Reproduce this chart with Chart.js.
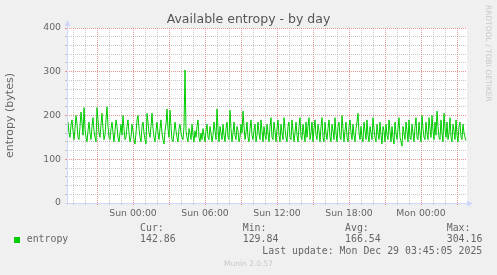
<!DOCTYPE html>
<html>
<head>
<meta charset="utf-8">
<script src="https://cdn.jsdelivr.net/npm/chart.js@4/dist/chart.umd.min.js"></script>
<style>
  html, body { margin: 0; padding: 0; background: #f0f0f0; }
  #wrap { position: relative; width: 497px; height: 275px; overflow: hidden; }
  #entropyChart { position: absolute; left: 0; top: 0; }
  .txt { position: absolute; white-space: pre; color: #666; }
  .mono { font-family: "DejaVu Sans Mono", monospace; font-size: 9.9px; line-height: 12px; }
</style>
</head>
<body>
<div id="wrap">
  <canvas id="entropyChart" width="497" height="275"></canvas>
</div>
<script>
// entropy samples, one every 5 minutes from Sat 18:30 to Mon 03:45
const entropy = [
    175, 185, 160, 150, 178, 190, 165, 145, 170, 200, 180, 150, 145, 175, 208, 185, 155, 218, 170, 150,
    140, 165, 185, 160, 145, 175, 195, 165, 150, 140, 218, 190, 160, 150, 180, 205, 170, 145, 155, 190,
    220, 175, 150, 145, 170, 185, 160, 140, 165, 190, 175, 150, 140, 160, 180, 155, 200, 170, 145, 150,
    175, 190, 160, 140, 150, 180, 165, 145, 135, 160, 190, 200, 170, 150, 140, 175, 185, 160, 145, 135,
    205, 185, 160, 150, 175, 205, 170, 150, 140, 165, 185, 160, 145, 170, 190, 160, 145, 135, 165, 180,
    215, 170, 150, 212, 175, 145, 140, 160, 185, 165, 150, 140, 170, 180, 160, 150, 145, 175, 304, 165,
    150, 140, 170, 160, 145, 180, 155, 140, 165, 150, 175, 190, 150, 140, 160, 145, 170, 155, 140, 165,
    180, 150, 145, 175, 160, 140, 155, 185, 165, 145, 215, 170, 140, 175, 160, 145, 180, 155, 140, 170,
    185, 150, 145, 212, 170, 140, 160, 185, 155, 145, 175, 165, 140, 150, 180, 160, 210, 175, 145, 160,
    185, 150, 140, 170, 190, 155, 145, 165, 180, 140, 155, 185, 160, 145, 190, 165, 140, 175, 155, 145,
    180, 160, 140, 175, 195, 150, 145, 185, 165, 140, 170, 190, 155, 140, 180, 160, 145, 195, 170, 150,
    140, 175, 185, 150, 145, 190, 165, 140, 160, 185, 155, 140, 175, 195, 150, 145, 180, 160, 140, 185,
    150, 175, 195, 145, 160, 185, 140, 170, 190, 155, 145, 180, 165, 140, 175, 195, 150, 140, 185, 160,
    145, 170, 190, 150, 140, 180, 165, 145, 195, 160, 140, 175, 185, 150, 145, 200, 170, 140, 165, 185,
    150, 140, 175, 190, 160, 145, 180, 155, 140, 170, 185, 205, 160, 145, 175, 150, 140, 185, 165, 145,
    190, 155, 140, 175, 160, 145, 195, 170, 150, 140, 180, 160, 145, 185, 155, 135, 175, 165, 140, 180,
    155, 145, 190, 165, 140, 175, 150, 135, 185, 160, 145, 170, 195, 150, 140, 130, 175, 160, 145, 185,
    165, 140, 190, 150, 145, 180, 160, 140, 175, 195, 150, 145, 185, 160, 140, 200, 170, 150, 145, 185,
    160, 145, 195, 170, 150, 200, 165, 145, 185, 155, 210, 175, 150, 145, 190, 160, 140, 205, 170, 150,
    185, 145, 160, 195, 150, 140, 180, 165, 145, 190, 155, 140, 175, 185, 150, 145, 180, 160, 150, 143
];
const startHour = -5.5;      // hours relative to Sun 00:00
const stepHours = 1 / 12;
const endHour = 27.8333;

const xTickHours = [0, 6, 12, 18, 24];
const xTickLabels = ["Sun 00:00", "Sun 06:00", "Sun 12:00", "Sun 18:00", "Mon 00:00"];
const yTickValues = [0, 100, 200, 300, 400];

const statLabels = ["Cur:", "Min:", "Avg:", "Max:"];
const statValues = ["142.86", "129.84", "166.54", "304.16"];
const lastUpdate = "Last update: Mon Dec 29 03:45:05 2025";

const points = entropy.map((v, i) => ({ x: startHour + i * stepHours, y: v }));

// rrdtool default grid colours
const MGRID = "rgba(222, 79, 79, 0.6)";
const GRID = "rgba(143, 143, 143, 0.5)";
const AXIS = "#CFD6F8";

// white canvas under the plot, axis lines with arrows on top
const rrdFrame = {
    id: "rrdFrame",
    beforeDraw(chart) {
        const { ctx, chartArea: a } = chart;
        ctx.save();
        ctx.fillStyle = "#ffffff";
        ctx.fillRect(a.left, a.top, a.right - a.left, a.bottom - a.top);
        ctx.restore();
    },
    afterDraw(chart) {
        const { ctx, chartArea: a } = chart;
        const x0 = a.left + 0.5, y0 = a.bottom + 0.5;
        ctx.save();
        ctx.strokeStyle = AXIS;
        ctx.fillStyle = AXIS;
        ctx.lineWidth = 1;
        ctx.beginPath();
        ctx.moveTo(x0, a.bottom + 2);
        ctx.lineTo(x0, a.top - 3);
        ctx.moveTo(a.left - 2, y0);
        ctx.lineTo(a.right + 3, y0);
        ctx.stroke();
        ctx.beginPath();
        ctx.moveTo(x0, a.top - 8);
        ctx.lineTo(x0 - 3, a.top - 2);
        ctx.lineTo(x0 + 3, a.top - 2);
        ctx.closePath();
        ctx.fill();
        ctx.beginPath();
        ctx.moveTo(a.right + 6, y0);
        ctx.lineTo(a.right, y0 - 3);
        ctx.lineTo(a.right, y0 + 3);
        ctx.closePath();
        ctx.fill();
        ctx.restore();
    }
};

Chart.defaults.font.family = "DejaVu Sans";
Chart.defaults.color = "#666";

new Chart(document.getElementById("entropyChart"), {
    type: "line",
    data: {
        datasets: [
            {
                label: "entropy",
                data: points,
                borderColor: "#00cc00",
                borderWidth: 1,
                pointRadius: 0,
                tension: 0,
                fill: false
            }
        ]
    },
    options: {
        responsive: false,
        animation: false,
        events: [],
        layout: { padding: { left: 0, right: 30, top: 28, bottom: 52 } },
        plugins: {
            legend: { display: false },
            tooltip: { enabled: false }
        },
        scales: {
            x: {
                type: "linear",
                min: startHour,
                max: endHour,
                afterFit: (s) => { s.height = 20; },
                ticks: {
                    stepSize: 1,
                    includeBounds: false,
                    autoSkip: false,
                    maxRotation: 0,
                    padding: 3,
                    font: { size: 9.3 },
                    callback: (v) => {
                        const k = xTickHours.indexOf(v);
                        return k >= 0 ? xTickLabels[k] : "";
                    }
                },
                grid: {
                    color: (c) => (c.tick && Math.abs(c.tick.value) % 3 === 0 ? MGRID : GRID),
                    tickLength: 2
                },
                border: { display: false, dash: [1, 1] }
            },
            y: {
                min: 0,
                max: 400,
                afterFit: (s) => { s.width = 67; },
                ticks: {
                    stepSize: 20,
                    autoSkip: false,
                    padding: 4,
                    font: { size: 9.3 },
                    callback: (v) => (yTickValues.includes(v) ? v : "")
                },
                grid: {
                    color: (c) => (c.tick && c.tick.value % 100 === 0 ? MGRID : GRID),
                    tickLength: 2
                },
                border: { display: false, dash: [1, 1] },
                title: {
                    display: true,
                    text: "entropy (bytes)",
                    font: { size: 11 },
                    padding: { top: 4, bottom: 4 }
                }
            }
        }
    },
    plugins: [rrdFrame]
});

// title, legend and footer texts
const wrap = document.getElementById("wrap");
function addText(text, left, top, cls, style) {
    const d = document.createElement("div");
    d.className = "txt " + (cls || "");
    d.textContent = text;
    d.style.left = left + "px";
    d.style.top = top + "px";
    Object.assign(d.style, style || {});
    wrap.appendChild(d);
    return d;
}
addText("Available entropy - by day", 0, 11, "", {
    width: "497px", textAlign: "center", fontFamily: "DejaVu Sans", fontSize: "12.5px", lineHeight: "15px", color: "#555"
});
addText("RRDTOOL / TOBI OETIKER", 483, 5, "", {
    writingMode: "vertical-rl", fontFamily: "DejaVu Sans", fontSize: "7.5px", lineHeight: "10px", color: "#c8c8c8"
});
const statX = [140, 242.7, 345, 446.7];
statLabels.forEach((t, i) => addText(t, statX[i], 221.7, "mono"));
statValues.forEach((t, i) => addText(t, statX[i], 233.3, "mono"));
addText("entropy", 26.7, 233.3, "mono");
const sw = document.createElement("div");
Object.assign(sw.style, { position: "absolute", left: "14px", top: "237px", width: "6px", height: "6px", background: "#00cc00" });
wrap.appendChild(sw);
addText(lastUpdate, 0, 245, "mono", { width: "482.3px", textAlign: "right" });
addText("Munin 2.0.57", 0, 259.3, "", {
    width: "497px", textAlign: "center", fontFamily: "DejaVu Sans", fontSize: "7.5px", lineHeight: "10px", color: "#c8c8c8"
});
</script>
</body>
</html>
